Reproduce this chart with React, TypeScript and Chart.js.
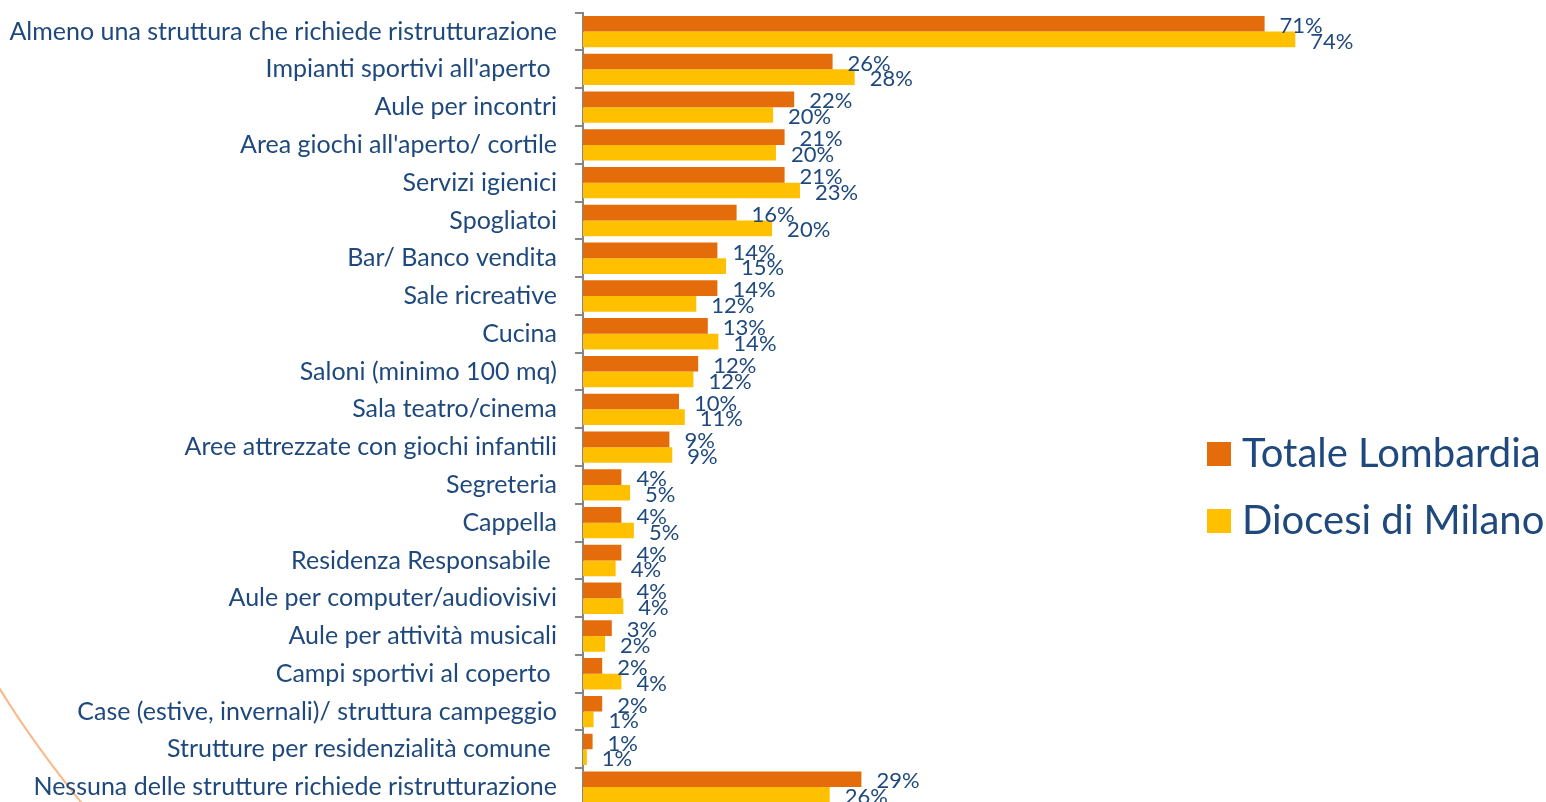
import React, { useEffect, useRef } from "react";
import { Chart, registerables } from "chart.js";

Chart.register(...registerables);

const categories = [
  "Almeno una struttura che richiede ristrutturazione",
  "Impianti sportivi all'aperto ",
  "Aule per incontri",
  "Area giochi all'aperto/ cortile",
  "Servizi igienici",
  "Spogliatoi",
  "Bar/ Banco vendita",
  "Sale ricreative",
  "Cucina",
  "Saloni (minimo 100 mq)",
  "Sala teatro/cinema",
  "Aree attrezzate con giochi infantili",
  "Segreteria",
  "Cappella",
  "Residenza Responsabile ",
  "Aule per computer/audiovisivi",
  "Aule per attività musicali",
  "Campi sportivi al coperto ",
  "Case (estive, invernali)/ struttura campeggio",
  "Strutture per residenzialità comune ",
  "Nessuna delle strutture richiede ristrutturazione",
];

const seriesNames = ["Totale Lombardia", "Diocesi di Milano"];

// bar lengths (%)
const lombardiaValues = [71, 26, 22, 21, 21, 16, 14, 14, 13, 12, 10, 9, 4, 4, 4, 4, 3, 2, 2, 1, 29];
const milanoValues = [74.2, 28.3, 19.8, 20.1, 22.6, 19.7, 14.9, 11.8, 14.1, 11.5, 10.6, 9.3, 4.9, 5.3, 3.4, 4.2, 2.3, 4.0, 1.1, 0.4, 25.7];

// printed value labels
const lombardiaLabels = ["71%", "26%", "22%", "21%", "21%", "16%", "14%", "14%", "13%", "12%", "10%", "9%", "4%", "4%", "4%", "4%", "3%", "2%", "2%", "1%", "29%"];
const milanoLabels = ["74%", "28%", "20%", "20%", "23%", "20%", "15%", "12%", "14%", "12%", "11%", "9%", "5%", "5%", "4%", "4%", "2%", "4%", "1%", "1%", "26%"];

const xTicks = { min: 0, max: 100 };

const ORANGE = "#E46C0A";
const YELLOW = "#FFC000";
const TEXT = "#1F497D";
const AXIS = "#868686";
const FONT = "Lato, 'Open Sans', sans-serif";

const valueLabelPlugin = {
  id: "valueLabels",
  afterDatasetsDraw(chart: any) {
    const ctx = chart.ctx;
    const all = [lombardiaLabels, milanoLabels];
    ctx.save();
    ctx.font = `22px ${FONT}`;
    ctx.fillStyle = TEXT;
    ctx.textAlign = "left";
    ctx.textBaseline = "middle";
    chart.data.datasets.forEach((_ds: any, i: number) => {
      const meta = chart.getDatasetMeta(i);
      meta.data.forEach((el: any, j: number) => {
        ctx.fillText(all[i][j], el.x + 15, el.y + 2);
      });
    });
    ctx.restore();
  },
};

const legendPlugin = {
  id: "sideLegend",
  afterDraw(chart: any) {
    const ctx = chart.ctx;
    ctx.save();
    ctx.font = `40px ${FONT}`;
    ctx.textAlign = "left";
    ctx.textBaseline = "middle";
    const tops = [442, 509];
    chart.data.datasets.forEach((ds: any, i: number) => {
      ctx.fillStyle = ds.backgroundColor;
      ctx.fillRect(1207, tops[i], 24, 24);
      ctx.fillStyle = TEXT;
      ctx.fillText(ds.label, 1242, tops[i] + 12);
    });
    ctx.restore();
  },
};

const decorPlugin = {
  id: "decorCurve",
  beforeDraw(chart: any) {
    const ctx = chart.ctx;
    ctx.save();
    ctx.strokeStyle = "#F9B98A";
    ctx.lineWidth = 2;
    ctx.beginPath();
    ctx.moveTo(-2, 686);
    ctx.quadraticCurveTo(32, 742, 84, 806);
    ctx.stroke();
    ctx.restore();
  },
};

export default function App() {
  const ref = useRef<HTMLCanvasElement | null>(null);

  useEffect(() => {
    if (!ref.current) return;
    const chart = new Chart(ref.current, {
      type: "bar",
      data: {
        labels: categories,
        datasets: [
          {
            label: seriesNames[0],
            data: lombardiaValues,
            backgroundColor: ORANGE,
            categoryPercentage: 0.83,
            barPercentage: 1,
          },
          {
            label: seriesNames[1],
            data: milanoValues,
            backgroundColor: YELLOW,
            categoryPercentage: 0.83,
            barPercentage: 1,
          },
        ],
      },
      options: {
        indexAxis: "y",
        responsive: false,
        animation: false,
        layout: { padding: { top: 12.7, right: 3, bottom: 0, left: 0 } },
        plugins: {
          legend: { display: false },
          tooltip: { enabled: false },
        },
        scales: {
          x: { display: false, min: xTicks.min, max: xTicks.max },
          y: {
            grid: {
              display: true,
              drawOnChartArea: false,
              drawTicks: true,
              tickLength: 8,
              color: AXIS,
              lineWidth: 2,
              offset: true,
            },
            border: { display: true, color: AXIS, width: 2 },
            ticks: {
              color: TEXT,
              font: { family: FONT, size: 25 },
              padding: 18,
              autoSkip: false,
            },
            afterFit: (scale: any) => {
              scale.width = 583;
              scale.paddingTop = 0;
              scale.paddingBottom = 0;
            },
          },
        },
      },
      plugins: [decorPlugin, valueLabelPlugin, legendPlugin],
    });
    return () => chart.destroy();
  }, []);

  return (
    <div
      style={{
        position: "fixed",
        left: 0,
        top: 0,
        width: 1546,
        height: 802,
        overflow: "hidden",
        background: "#fff",
      }}
    >
      <canvas ref={ref} width={1546} height={806} style={{ display: "block" }} />
    </div>
  );
}
